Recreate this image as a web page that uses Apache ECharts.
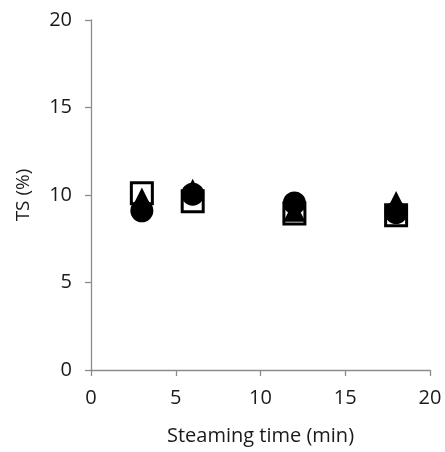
<!DOCTYPE html>
<html>
<head>
<meta charset="utf-8">
<script src="https://cdn.jsdelivr.net/npm/echarts@6/dist/echarts.min.js"></script>
<style>
  html, body { margin: 0; padding: 0; background: #fff; }
  #chart { width: 445px; height: 452px; }
</style>
</head>
<body>
<div id="chart"></div>
<script>
// Steaming time (min) and total solids (%) for three samples
const steamingTime = [3, 6, 12, 18];
const tsSquare = [10.1, 9.65, 8.95, 8.85];
const tsTriangle = [9.8, 10.3, 9.1, 9.6];
const tsCircle = [9.1, 10.05, 9.55, 9.0];
const xTicks = [0, 5, 10, 15, 20];
const yTicks = [0, 5, 10, 15, 20];

const pairs = (ys) => steamingTime.map((x, i) => [x, ys[i]]);
const font = "'Open Sans', 'Liberation Sans', sans-serif";
const axisGray = '#8c8c8c';
const ink = '#000';

const chart = echarts.init(document.getElementById('chart'));
chart.setOption({
  animation: false,
  grid: { left: 91, right: 15, top: 20, bottom: 82 },
  xAxis: {
    type: 'value', min: xTicks[0], max: xTicks[xTicks.length - 1], interval: 5,
    name: 'Steaming time (min)', nameLocation: 'middle', nameGap: 56,
    nameTextStyle: { fontFamily: font, fontSize: 20, color: '#1a1a1a' },
    axisLine: { show: true, lineStyle: { color: axisGray, width: 1.3 } },
    axisTick: { show: true, length: 6, lineStyle: { color: axisGray, width: 1.3 } },
    axisLabel: { fontFamily: font, fontSize: 20, color: '#1a1a1a', margin: 18 },
    splitLine: { show: false }
  },
  yAxis: {
    type: 'value', min: yTicks[0], max: yTicks[yTicks.length - 1], interval: 5,
    name: 'TS (%)', nameLocation: 'middle', nameGap: 58,
    nameTextStyle: { fontFamily: font, fontSize: 19, color: '#1a1a1a' },
    axisLine: { show: true, lineStyle: { color: axisGray, width: 1.3 } },
    axisTick: { show: true, length: 6, lineStyle: { color: axisGray, width: 1.3 } },
    axisLabel: { fontFamily: font, fontSize: 20, color: '#1a1a1a', margin: 19 },
    splitLine: { show: false }
  },
  series: [
    {
      type: 'scatter', data: pairs(tsSquare), symbol: 'rect', symbolSize: 21,
      itemStyle: { color: '#fff', borderColor: ink, borderWidth: 3, opacity: 1 }, z: 2
    },
    {
      type: 'scatter', data: pairs(tsTriangle), symbol: 'triangle', symbolSize: 22,
      itemStyle: { color: ink, opacity: 1 }, z: 3
    },
    {
      type: 'scatter', data: pairs(tsCircle), symbol: 'circle', symbolSize: 23,
      itemStyle: { color: ink, opacity: 1 }, z: 4
    }
  ]
});
</script>
</body>
</html>
